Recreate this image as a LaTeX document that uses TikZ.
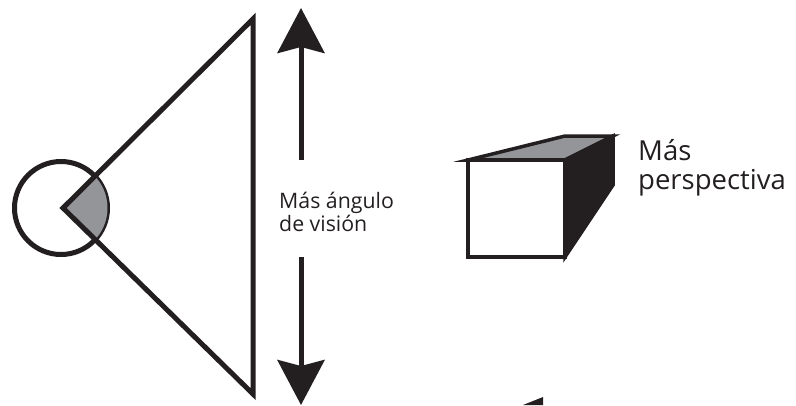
\documentclass[tikz,border=0pt]{standalone}
\usepackage{fontspec}
\setmainfont{Open Sans}
\usetikzlibrary{arrows.meta, positioning}
\definecolor{inkblack}{HTML}{231F20}
\definecolor{facegray}{HTML}{939598}

\begin{document}
\begin{tikzpicture}[x=1pt, y=-1pt,
    outline/.style={draw=inkblack, line width=5pt, line join=miter},
    cubeline/.style={draw=inkblack, line width=3.5pt, line join=miter},
    bigarrow/.style={draw=inkblack, line width=5pt, -{Stealth[length=45pt, width=47pt, inset=6pt]}},
    smalltext/.style={inner sep=0pt, text=inkblack, font=\fontsize{21.3}{24}\selectfont},
    bigtext/.style={inner sep=0pt, text=inkblack, font=\fontsize{27.5}{31}\selectfont}]
\useasboundingbox (0,0) rectangle (796,405);

\coordinate (eye) at (61,208);
\coordinate (apex) at (63,208);
\coordinate (viewtop) at (253,19);
\coordinate (viewbottom) at (253,394);
\draw[outline, fill=white] (eye) circle (46.5);
\begin{scope}
\clip (eye) circle (46.5);
\fill[facegray] (apex) -- (viewtop) -- (viewbottom) -- cycle;
\end{scope}
\draw[outline] (apex) -- (viewtop) -- (viewbottom) -- cycle;

\node[smalltext, anchor=base west] (angulo) at (279,208) {Más ángulo};
\node[smalltext, anchor=base west] (vision) at (279,231) {de visión};
\coordinate (shafttop) at (301,160);
\coordinate (tiptop) at (301,8);
\coordinate (shaftbottom) at (301,257);
\coordinate (tipbottom) at (301,405);
\draw[bigarrow] (shafttop) -- (tiptop);
\draw[bigarrow] (shaftbottom) -- (tipbottom);

\draw[cubeline, fill=facegray] (468,160) -- (565,136) -- (613,136) -- (565,160) -- cycle;
\draw[cubeline, fill=inkblack] (565,160) -- (613,136) -- (613,185) -- (565,257) -- cycle;
\draw[cubeline, fill=white] (468,160) rectangle (565,257);
\fill[inkblack] (523,405) -- (543,397) -- (543,405) -- cycle;

\node[bigtext, anchor=base west] (mas) at (638,160) {Más};
\node[bigtext, anchor=base west] (perspectiva) at (638,189) {perspectiva};

\end{tikzpicture}
\end{document}
